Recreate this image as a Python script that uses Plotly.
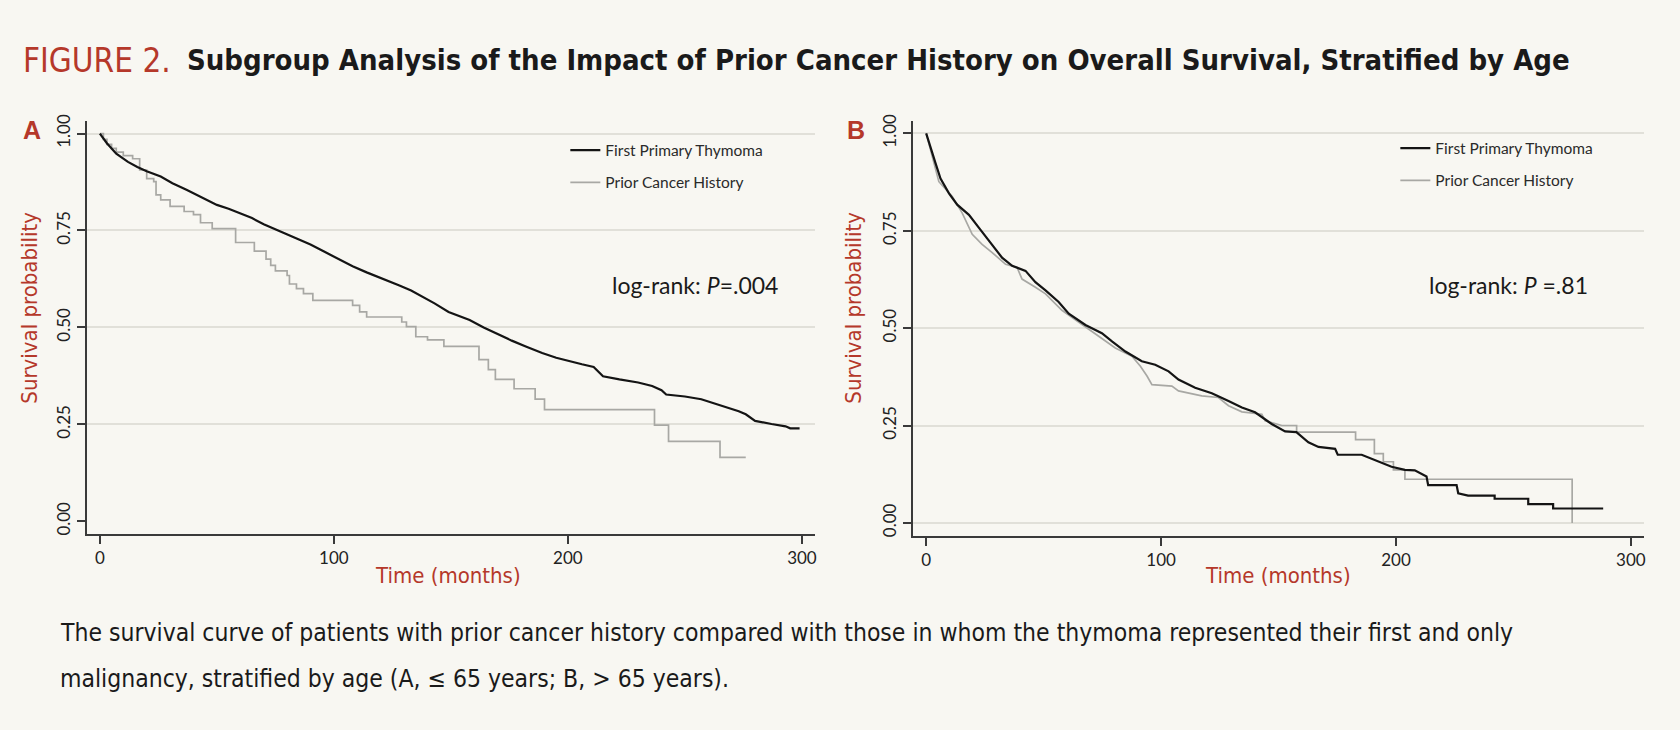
import plotly.graph_objects as go

W, H = 1680, 730

# ---------------- data ----------------
# Panel A (age <= 65)
a_first_t = [0, 3, 7, 12, 16, 20, 26, 31, 37, 44, 50, 55, 60, 65, 70, 75, 82, 90, 96, 102,
             108, 114, 121, 128, 133, 137, 143, 149, 154, 158, 164, 171, 176, 182, 189, 195, 201, 206, 211, 215,
             222, 230, 236, 240, 242, 250, 257, 263, 269, 273, 276, 280, 287, 293, 295, 299]
a_first_s = [1.0, 0.975, 0.948, 0.927, 0.914, 0.903, 0.889, 0.872, 0.855, 0.834, 0.816, 0.806, 0.795, 0.782, 0.766, 0.753, 0.735, 0.714, 0.695, 0.676,
             0.658, 0.642, 0.626, 0.608, 0.595, 0.582, 0.562, 0.540, 0.528, 0.519, 0.500, 0.480, 0.466, 0.451, 0.434, 0.422, 0.412, 0.405, 0.398, 0.374,
             0.366, 0.358, 0.349, 0.338, 0.327, 0.322, 0.315, 0.304, 0.293, 0.284, 0.276, 0.259, 0.251, 0.245, 0.240, 0.240]
a_prior_t = [0, 1.5, 3, 5, 7, 10, 14, 17, 20, 23, 24, 26, 30, 36, 40, 43, 48, 58, 66, 71, 73, 75, 80, 81,
             84, 87, 91, 108, 111, 114, 129, 131, 135, 140, 147, 162, 166, 169, 177, 186, 190, 237, 243, 265, 276]
a_prior_s = [1.0, 0.985, 0.972, 0.962, 0.952, 0.943, 0.935, 0.906, 0.884, 0.876, 0.842, 0.829, 0.812, 0.799, 0.791, 0.770, 0.755, 0.719, 0.697, 0.676, 0.660, 0.646, 0.634, 0.612,
             0.600, 0.587, 0.570, 0.557, 0.540, 0.527, 0.514, 0.502, 0.476, 0.468, 0.451, 0.417, 0.391, 0.366, 0.342, 0.315, 0.288, 0.248, 0.206, 0.165, 0.165]

# Panel B (age > 65)
b_first_t = [0, 1.9, 4, 6.1, 9.7, 13.2, 18.2, 22.4, 26.7, 32.3, 36.6, 42.3, 46.5, 50.8, 56.4, 60.7, 67.8, 74.8, 79.1, 84.8,
             91.8, 97.5, 103.2, 107.4, 114.5, 121.6, 128.7, 134.4, 140, 142.9, 147.1, 152.8, 157.6, 162.7, 167, 174.1, 175.2, 185.4, 192.5, 198.1,
             203.8, 208, 213, 213.7, 225.8, 226.5, 230.7, 242, 242, 256.3, 256.3, 266.9, 266.9, 288.2]
b_first_s = [1.0, 0.961, 0.923, 0.884, 0.846, 0.817, 0.791, 0.758, 0.724, 0.681, 0.660, 0.647, 0.618, 0.597, 0.567, 0.537, 0.508, 0.487, 0.466, 0.440,
             0.415, 0.406, 0.389, 0.368, 0.347, 0.333, 0.313, 0.296, 0.284, 0.271, 0.254, 0.235, 0.233, 0.207, 0.195, 0.190, 0.175, 0.175, 0.157, 0.144,
             0.136, 0.135, 0.119, 0.097, 0.097, 0.076, 0.070, 0.070, 0.062, 0.062, 0.048, 0.048, 0.037, 0.037]
b_prior_t = [0, 2.6, 5.4, 11.1, 15.3, 19.6, 23.8, 28.1, 33.8, 38.7, 40.8, 46.5, 50.8, 57.8, 64.9, 70.6, 74.8, 80.5, 87.6, 91.2,
             94, 96.1, 104.6, 107.4, 117.3, 124.4, 128.7, 134.4, 142.9, 144.3, 151.4, 157.7, 157.7, 182.8, 182.8, 190.8, 190.8, 194.6, 194.6, 198.9,
             198.9, 203.8, 203.8, 275, 275]
b_prior_s = [1.0, 0.939, 0.876, 0.838, 0.796, 0.741, 0.715, 0.694, 0.664, 0.656, 0.626, 0.605, 0.588, 0.546, 0.516, 0.491, 0.474, 0.449, 0.428, 0.402,
             0.377, 0.355, 0.351, 0.339, 0.326, 0.322, 0.301, 0.285, 0.279, 0.262, 0.250, 0.250, 0.233, 0.233, 0.214, 0.214, 0.178, 0.178, 0.157, 0.157,
             0.136, 0.136, 0.112, 0.112, 0.0]

series_names = ["First Primary Thymoma", "Prior Cancer History"]
x_ticks = [0, 100, 200, 300]
y_ticks = [0, 0.25, 0.5, 0.75, 1.0]
y_tick_text = ["0.00", "0.25", "0.50", "0.75", "1.00"]
p_text_a = "log-rank: <i>P</i>=.004"
p_text_b = "log-rank: <i>P</i> =.81"
title_red = "FIGURE 2."
title_bold = "Subgroup Analysis of the Impact of Prior Cancer History on Overall Survival, Stratified by Age"
caption_1 = "The survival curve of patients with prior cancer history compared with those in whom the thymoma represented their first and only"
caption_2 = "malignancy, stratified by age (A, \u2264 65 years; B, > 65 years)."

# ---------------- styling ----------------
BG = "#f8f7f2"
RED = "#b5382a"
BLACK = "#141414"
GRAY = "#a8a8a4"
GRID = "#e1e0d9"
AXIS = "#3a3a3a"
NARROW = "Liberation Sans Narrow, DejaVu Sans Condensed, Liberation Sans, sans-serif"
HUMAN = "Lato, Open Sans, sans-serif"


def px(x):
    return x / W


def py(y):
    return 1 - y / H


fig = go.Figure()

# Panel A
fig.add_trace(go.Scatter(x=a_prior_t, y=a_prior_s, mode="lines", line=dict(color=GRAY, width=1.7, shape="hv"),
                         name=series_names[1], legend="legend", legendrank=2, legendgroup="a2",
                         xaxis="x", yaxis="y"))
fig.add_trace(go.Scatter(x=a_first_t, y=a_first_s, mode="lines", line=dict(color=BLACK, width=2.2),
                         name=series_names[0], legend="legend", legendrank=1, legendgroup="a1",
                         xaxis="x", yaxis="y"))
# Panel B
fig.add_trace(go.Scatter(x=b_prior_t, y=b_prior_s, mode="lines", line=dict(color=GRAY, width=1.7),
                         name=series_names[1], legend="legend2", legendrank=2, legendgroup="b2",
                         xaxis="x2", yaxis="y2"))
fig.add_trace(go.Scatter(x=b_first_t, y=b_first_s, mode="lines", line=dict(color=BLACK, width=2.2),
                         name=series_names[0], legend="legend2", legendrank=1, legendgroup="b1",
                         xaxis="x2", yaxis="y2"))

axis_common = dict(showline=True, linecolor=AXIS, linewidth=1.5, ticks="outside", ticklen=8,
                   tickwidth=1.5, tickcolor=AXIS, zeroline=False,
                   tickfont=dict(family=HUMAN, size=17, color="#222"))

fig.update_layout(
    width=W, height=H,
    margin=dict(l=0, r=0, t=0, b=0),
    paper_bgcolor=BG, plot_bgcolor=BG,
    xaxis=dict(domain=[px(87), px(816)], range=[-5.55, 305.6], anchor="y",
               tickvals=x_ticks, showgrid=False, **axis_common),
    yaxis=dict(domain=[py(533), py(115)], range=[-0.033, 1.033], anchor="x",
               tickvals=y_ticks, ticktext=y_tick_text, tickangle=-90, showgrid=False,
               minor=dict(tickvals=y_ticks[1:], showgrid=True, gridcolor=GRID, gridwidth=1.5, ticks=""),
               **axis_common),
    xaxis2=dict(domain=[px(914), px(1646)], range=[-5.65, 305.6], anchor="y2",
                tickvals=x_ticks, showgrid=False, **axis_common),
    yaxis2=dict(domain=[py(535), py(115)], range=[-0.034, 1.0325], anchor="x2",
                tickvals=y_ticks, ticktext=y_tick_text, tickangle=-90, showgrid=True,
                gridcolor=GRID, gridwidth=1.5, **axis_common),
    legend=dict(x=px(566), y=py(128), xanchor="left", yanchor="top", bgcolor="rgba(0,0,0,0)",
                traceorder="grouped", tracegroupgap=9, font=dict(family=HUMAN, size=15.5, color="#2a2a2a")),
    legend2=dict(x=px(1397), y=py(126), xanchor="left", yanchor="top", bgcolor="rgba(0,0,0,0)",
                 traceorder="grouped", tracegroupgap=9, font=dict(family=HUMAN, size=15.5, color="#2a2a2a")),
    showlegend=True,
)

ann = []
# Title
ann.append(dict(text=title_red, x=px(21), y=py(54), xref="paper", yref="paper", xanchor="left", yanchor="middle",
                showarrow=False, font=dict(family=NARROW, size=33, color=RED)))
ann.append(dict(text="<b>" + title_bold + "</b>", x=px(185), y=py(54), xref="paper", yref="paper",
                xanchor="left", yanchor="middle", showarrow=False, font=dict(family=NARROW, size=29, color="#1a1a1a")))
# Panel letters
for lbl, xx in (("A", 32), ("B", 857)):
    ann.append(dict(text="<b>" + lbl + "</b>", x=px(xx), y=py(124), xref="paper", yref="paper",
                    xanchor="center", yanchor="middle", showarrow=False,
                    font=dict(family="Liberation Sans, sans-serif", size=25, color=RED)))
# Axis titles
for xx in (30, 855):
    ann.append(dict(text="Survival probability", x=px(xx), y=py(304), xref="paper", yref="paper",
                    xanchor="center", yanchor="middle", textangle=-90, showarrow=False,
                    font=dict(family=NARROW, size=22, color=RED)))
for xx in (449, 1280):
    ann.append(dict(text="Time (months)", x=px(xx), y=py(575), xref="paper", yref="paper",
                    xanchor="center", yanchor="middle", showarrow=False,
                    font=dict(family=NARROW, size=22, color=RED)))
# log-rank annotations
ann.append(dict(text=p_text_a, x=px(696), y=py(281), xref="paper", yref="paper", xanchor="center", yanchor="middle",
                showarrow=False, font=dict(family=HUMAN, size=23, color="#1a1a1a")))
ann.append(dict(text=p_text_b, x=px(1510), y=py(281), xref="paper", yref="paper", xanchor="center", yanchor="middle",
                showarrow=False, font=dict(family=HUMAN, size=23, color="#1a1a1a")))
# Caption
ann.append(dict(text=caption_1, x=px(58), y=py(632), xref="paper", yref="paper", xanchor="left", yanchor="middle",
                showarrow=False, font=dict(family=NARROW, size=24.5, color="#1a1a1a")))
ann.append(dict(text=caption_2, x=px(58), y=py(679), xref="paper", yref="paper", xanchor="left", yanchor="middle",
                showarrow=False, font=dict(family=NARROW, size=24.5, color="#1a1a1a")))

fig.update_layout(annotations=ann)
fig.write_html("out.html",
               config={"displayModeBar": False},
               post_script="document.body.style.margin='0px';document.body.style.background='#f8f7f2';"
                           "document.body.style.overflow='hidden';")
